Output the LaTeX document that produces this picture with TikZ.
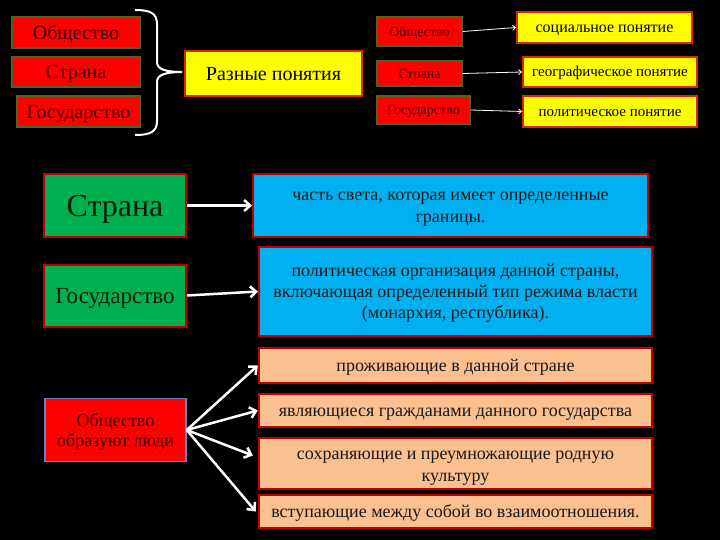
\documentclass[tikz,border=0pt]{standalone}
\usepackage{fontspec}
\setmainfont{Liberation Serif}
\usetikzlibrary{arrows.meta}
\definecolor{slidered}{RGB}{255,0,0}
\definecolor{slideyellow}{RGB}{255,255,0}
\definecolor{slidegreen}{RGB}{0,176,80}
\definecolor{slideblue}{RGB}{0,176,240}
\definecolor{slidepeach}{RGB}{250,192,144}
\definecolor{olivedark}{RGB}{79,98,40}
\definecolor{edgered}{RGB}{192,0,0}
\definecolor{edgeorange}{RGB}{220,40,10}
\definecolor{edgeblue}{RGB}{111,127,184}
\definecolor{inkred}{RGB}{60,0,0}
\definecolor{inkgreen}{RGB}{8,30,8}
\begin{document}
\begin{tikzpicture}[
    x=1pt, y=-1pt,
    termbox/.style={
        rectangle,
        inner sep=0pt,
        fill=slidered,
        draw=olivedark,
        line width=1.5pt,
        text=inkred
    },
    sensebox/.style={
        rectangle,
        inner sep=0pt,
        fill=slideyellow,
        draw=edgeorange,
        line width=1.8pt
    },
    keybox/.style={
        rectangle,
        inner sep=0pt,
        minimum width=142pt,
        minimum height=62pt,
        fill=slidegreen,
        draw=edgered,
        line width=2pt,
        text=inkgreen
    },
    defbox/.style={
        rectangle,
        inner sep=0pt,
        align=center,
        fill=slideblue,
        draw=edgered,
        line width=2pt,
        text=black!90
    },
    featbox/.style={
        rectangle,
        inner sep=0pt,
        align=center,
        minimum width=393pt,
        fill=slidepeach,
        draw=edgered,
        line width=2.5pt,
        text=black!90
    },
    % font sizes, with the text box set so that lines sit mid-box
    hugetext/.style={font=\fontsize{32}{38}\selectfont, text height=28.8pt, text depth=7.4pt},
    bigtext/.style={font=\fontsize{20}{24}\selectfont, text height=18pt, text depth=4.6pt},
    midtext/.style={font=\fontsize{18}{22}\selectfont, text height=16.2pt, text depth=4.1pt},
    smalltext/.style={font=\fontsize{14}{17}\selectfont, text height=12.6pt, text depth=3.2pt},
    thinarrow/.style={-{Straight Barb[length=3pt,width=5pt]}, white, line width=0.8pt},
    boldarrow/.style={-{Straight Barb[length=6pt,width=11pt]}, white, line width=2.5pt}
]

\fill[black] (0,0) rectangle (720,540);
\useasboundingbox (0,0) rectangle (720,540);

% Three terms and the brace
\node[termbox, bigtext, minimum width=128pt, minimum height=31pt] (tsoc) at (76,32.5) {Общество};
\node[termbox, bigtext, minimum width=128pt, minimum height=30pt] (tstr) at (76,72) {Страна};
\node[termbox, bigtext, minimum width=123pt, minimum height=31pt] (tgos) at (78.5,111.5) {Государство};

\draw[white, line width=2pt] (135,10) .. controls (150,10) and (157,13) .. (157,24) -- (157,62)
    .. controls (157,69) and (165,72) .. (182,72) .. controls (165,72) and (157,75) .. (157,82)
    -- (157,121) .. controls (157,132) and (150,135) .. (135,135);

\node[sensebox, bigtext, minimum width=177pt, minimum height=45pt] (diff) at (273.5,73.5) {Разные понятия};

% Term meanings
\node[termbox, smalltext, minimum width=85pt, minimum height=29pt] (msoc) at (419.5,31.5) {Общество};
\node[termbox, smalltext, minimum width=85pt, minimum height=25pt] (mstr) at (419.5,73.5) {Страна};
\node[termbox, smalltext, minimum width=93pt, minimum height=28pt] (mgos) at (423.5,110) {Государство};

\node[sensebox, minimum width=175pt, minimum height=31pt, font=\fontsize{16}{19}\selectfont,
    text height=14.4pt, text depth=3.7pt] (social) at (604.5,27.5) {социальное понятие};
\node[sensebox, minimum width=174pt, minimum height=30pt, font=\fontsize{15}{18}\selectfont,
    text height=13.5pt, text depth=3.5pt] (geo) at (610,72) {географическое понятие};
\node[sensebox, minimum width=174pt, minimum height=31pt, font=\fontsize{15}{18}\selectfont,
    text height=13.5pt, text depth=3.5pt] (pol) at (610,111.5) {политическое понятие};

\draw[thinarrow] (msoc.east) -- (social.west);
\draw[thinarrow] (mstr.east) -- (geo.west);
\draw[thinarrow] (mgos.east) -- (pol.west);

% Definitions
\node[keybox, hugetext] (country) at (115,205.5) {Страна};
\node[defbox, midtext, text height=38.2pt, minimum width=395pt, minimum height=63pt] (countrydef) at (450.5,205.5)
    {часть света, которая имеет определенные\\ границы.};

\node[keybox, font=\fontsize{23}{27}\selectfont, text height=20.7pt, text depth=5.3pt] (state) at (115,295.5) {Государство};
\node[defbox, font=\fontsize{18}{21}\selectfont, text height=58.2pt, text depth=4.1pt,
    minimum width=393pt, minimum height=89pt] (statedef) at (455.5,291.5)
    {политическая организация данной страны,\\ включающая определенный тип режима власти\\ (монархия, республика).};

\draw[boldarrow] (country.east) -- (countrydef.west);
\draw[boldarrow] (state.east) -- (statedef.west);

% Society
\node[termbox, draw=edgeblue, minimum width=141pt, minimum height=63pt, align=center,
    font=\fontsize{18}{20}\selectfont, text height=36.2pt, text depth=4.1pt] (people) at (115.5,430) {Общество\\ образуют люди};

\node[featbox, midtext, minimum height=35pt] (live) at (455.5,365.5) {проживающие в данной стране};
\node[featbox, midtext, minimum height=33pt] (citizen) at (455.5,410.5) {являющиеся гражданами данного государства};
\node[featbox, midtext, text height=40.2pt, minimum height=51pt] (culture) at (455.5,463.5) {сохраняющие и преумножающие родную\\ культуру};
\node[featbox, midtext, minimum height=33pt] (relate) at (455.5,511.5) {вступающие между собой во взаимоотношения.};

\draw[boldarrow] (people.east) -- (live.west);
\draw[boldarrow] (people.east) -- (citizen.west);
\draw[boldarrow] (people.east) -- ([xshift=-5pt, yshift=8pt]culture.west);
\draw[boldarrow] (people.east) -- ([xshift=-2pt]relate.west);

\end{tikzpicture}
\end{document}
